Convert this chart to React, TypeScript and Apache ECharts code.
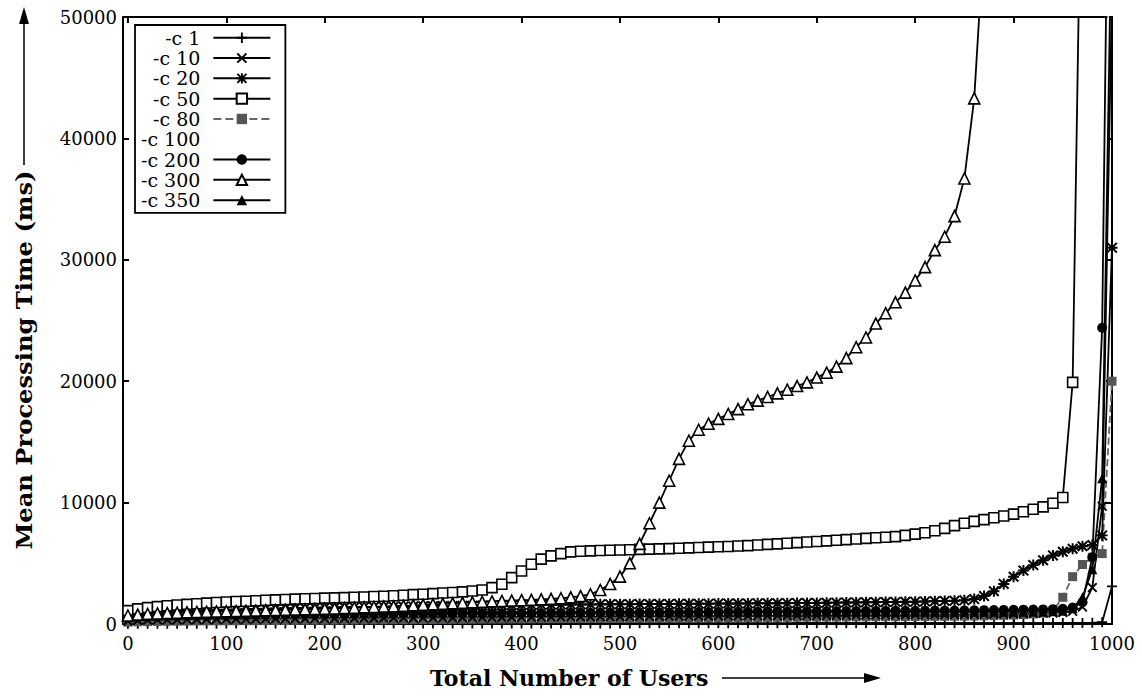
import React, { useEffect, useRef } from "react";
import * as echarts from "echarts";

// Total number of users (x values of every sampled point)
const users = [
  0, 10, 20, 30, 40, 50, 60, 70, 80, 90,
  100, 110, 120, 130, 140, 150, 160, 170, 180, 190,
  200, 210, 220, 230, 240, 250, 260, 270, 280, 290,
  300, 310, 320, 330, 340, 350, 360, 370, 380, 390,
  400, 410, 420, 430, 440, 450, 460, 470, 480, 490,
  500, 510, 520, 530, 540, 550, 560, 570, 580, 590,
  600, 610, 620, 630, 640, 650, 660, 670, 680, 690,
  700, 710, 720, 730, 740, 750, 760, 770, 780, 790,
  800, 810, 820, 830, 840, 850, 860, 870, 880, 890,
  900, 910, 920, 930, 940, 950, 960, 970, 980, 990,
  1000,
];

// Mean processing time (ms) per concurrency level
const c1 = [
  20, 22, 24, 25, 26, 27, 28, 29, 30, 30,
  31, 31, 32, 32, 33, 33, 34, 34, 35, 35,
  36, 36, 37, 37, 38, 38, 39, 39, 40, 40,
  41, 41, 42, 42, 43, 43, 44, 44, 45, 45,
  46, 46, 47, 47, 48, 48, 49, 49, 50, 50,
  51, 51, 52, 52, 53, 53, 54, 54, 55, 55,
  56, 56, 57, 57, 58, 58, 59, 59, 60, 60,
  61, 61, 62, 62, 63, 63, 64, 64, 65, 65,
  66, 66, 67, 67, 68, 68, 69, 70, 71, 72,
  73, 74, 75, 77, 79, 82, 86, 92, 100, 150,
  3100,
];
const c10 = [
  250, 300, 320, 340, 350, 360, 370, 380, 390, 400,
  405, 410, 415, 420, 425, 430, 435, 440, 445, 450,
  455, 460, 465, 470, 475, 480, 485, 490, 495, 500,
  505, 510, 515, 520, 525, 530, 535, 540, 545, 550,
  555, 560, 565, 570, 575, 580, 585, 590, 595, 600,
  605, 610, 615, 620, 625, 630, 635, 640, 645, 650,
  655, 660, 665, 670, 675, 680, 685, 690, 695, 700,
  705, 710, 715, 720, 725, 730, 735, 740, 745, 750,
  755, 760, 765, 770, 775, 780, 790, 800, 810, 820,
  830, 845, 860, 880, 910, 950, 1050, 1400, 3000, 9700,
  52000,
];
const c20 = [
  900, 950, 990, 1020, 1050, 1070, 1090, 1110, 1130, 1150,
  1170, 1190, 1210, 1230, 1250, 1270, 1290, 1300, 1320, 1340,
  1350, 1360, 1380, 1390, 1400, 1410, 1420, 1430, 1440, 1450,
  1460, 1470, 1480, 1490, 1500, 1510, 1520, 1530, 1540, 1550,
  1560, 1570, 1580, 1590, 1600, 1605, 1610, 1615, 1620, 1625,
  1630, 1635, 1640, 1645, 1650, 1655, 1660, 1665, 1670, 1675,
  1680, 1685, 1690, 1695, 1700, 1705, 1710, 1715, 1720, 1730,
  1740, 1750, 1760, 1770, 1780, 1790, 1800, 1810, 1820, 1830,
  1840, 1860, 1880, 1900, 1920, 1950, 2050, 2300, 2700, 3300,
  3900, 4400, 4850, 5250, 5650, 5950, 6200, 6400, 6500, 7300,
  31000,
];
const c50 = [
  1100, 1250, 1350, 1430, 1500, 1560, 1620, 1670, 1720, 1770,
  1810, 1850, 1880, 1920, 1960, 1990, 2020, 2050, 2080, 2100,
  2130, 2150, 2170, 2200, 2230, 2260, 2290, 2330, 2370, 2420,
  2450, 2500, 2550, 2600, 2650, 2720, 2800, 3000, 3270, 3820,
  4370, 4920, 5340, 5610, 5800, 5940, 5990, 6020, 6050, 6080,
  6100, 6120, 6150, 6170, 6190, 6210, 6240, 6270, 6300, 6330,
  6360, 6390, 6420, 6460, 6510, 6560, 6600, 6650, 6700, 6750,
  6800, 6850, 6900, 6950, 7000, 7050, 7100, 7150, 7200, 7300,
  7400, 7520, 7680, 7880, 8100, 8300, 8450, 8600, 8750, 8900,
  9050, 9250, 9450, 9650, 9950, 10420, 19900, 70000,
];
const c80 = [
  150, 180, 200, 210, 220, 230, 240, 250, 255, 260,
  265, 270, 275, 280, 285, 290, 295, 300, 305, 310,
  315, 320, 325, 330, 335, 340, 345, 350, 355, 360,
  365, 370, 375, 380, 385, 390, 395, 400, 405, 410,
  415, 420, 425, 430, 435, 440, 445, 450, 455, 460,
  465, 470, 475, 480, 485, 490, 495, 500, 505, 510,
  515, 520, 525, 530, 535, 540, 545, 550, 555, 560,
  565, 570, 575, 580, 585, 590, 595, 600, 605, 610,
  615, 620, 625, 630, 640, 650, 660, 670, 690, 710,
  740, 780, 830, 900, 1100, 2200, 3900, 4900, 5500, 5800,
  20000,
];
const c100 = [
  800, 860, 900, 930, 960, 980, 1000, 1020, 1040, 1060,
  1070, 1080, 1090, 1100, 1110, 1120, 1130, 1140, 1150, 1160,
  1170, 1180, 1190, 1200, 1210, 1220, 1230, 1240, 1250, 1260,
  1265, 1270, 1275, 1280, 1285, 1290, 1295, 1300, 1305, 1310,
  1315, 1320, 1325, 1330, 1335, 1340, 1345, 1350, 1355, 1360,
  1365, 1370, 1375, 1380, 1385, 1390, 1395, 1400, 1405, 1410,
  1415, 1420, 1425, 1430, 1435, 1440, 1445, 1450, 1455, 1460,
  1465, 1470, 1475, 1480, 1485, 1490, 1495, 1500, 1505, 1510,
  1515, 1520, 1525, 1530, 1535, 1540, 1545, 1550, 1560, 1570,
  1580, 1590, 1600, 1620, 1650, 1700, 1850, 2600, 5000, 15000,
  70000,
];
const c200 = [
  500, 550, 580, 600, 620, 640, 660, 670, 680, 690,
  700, 710, 720, 730, 740, 750, 760, 770, 780, 790,
  795, 800, 805, 810, 815, 820, 825, 830, 835, 840,
  845, 850, 855, 860, 865, 870, 875, 880, 885, 890,
  895, 900, 905, 910, 915, 920, 925, 930, 935, 940,
  945, 950, 955, 960, 965, 970, 975, 980, 985, 990,
  995, 1000, 1005, 1010, 1015, 1020, 1025, 1030, 1035, 1040,
  1045, 1050, 1055, 1060, 1065, 1070, 1075, 1080, 1085, 1090,
  1095, 1100, 1105, 1110, 1115, 1120, 1130, 1140, 1150, 1160,
  1170, 1180, 1190, 1200, 1220, 1250, 1350, 1800, 5500, 24400,
  90000,
];
const c300 = [
  700, 780, 830, 870, 900, 930, 960, 990, 1010, 1030,
  1050, 1070, 1090, 1110, 1130, 1150, 1170, 1190, 1210, 1230,
  1250, 1280, 1310, 1340, 1370, 1400, 1430, 1460, 1500, 1540,
  1580, 1620, 1660, 1700, 1740, 1780, 1820, 1860, 1900, 1930,
  1960, 1990, 2030, 2070, 2120, 2200, 2300, 2450, 2800, 3300,
  3900, 5000, 6600, 8300, 10000, 11800, 13600, 15100, 16000, 16500,
  16900, 17300, 17700, 18100, 18400, 18700, 19000, 19300, 19600, 19900,
  20300, 20700, 21200, 21900, 22800, 23600, 24750, 25600, 26500, 27300,
  28300, 29400, 30800, 31900, 33600, 36700, 43300, 56700,
];
const c350 = [
  600, 650, 690, 720, 740, 760, 780, 800, 810, 820,
  830, 840, 850, 860, 870, 880, 890, 900, 905, 910,
  915, 920, 925, 930, 935, 940, 945, 950, 955, 960,
  962, 964, 966, 968, 970, 972, 974, 976, 978, 980,
  982, 984, 986, 988, 990, 992, 994, 996, 998, 1000,
  1000, 1000, 1000, 1000, 1000, 1000, 1000, 1000, 1000, 1000,
  1000, 1000, 1000, 1000, 1000, 1000, 1000, 1000, 1000, 1000,
  1000, 1000, 1000, 1000, 1000, 1000, 1000, 1000, 1000, 1000,
  1000, 1000, 1000, 1000, 1000, 1000, 1000, 1000, 1000, 1000,
  1000, 1010, 1020, 1030, 1050, 1100, 1300, 2200, 4500, 12000,
  60000,
];

const xTicks = [0, 100, 200, 300, 400, 500, 600, 700, 800, 900, 1000];
const legendNames = ["-c 1", "-c 10", "-c 20", "-c 50", "-c 80", "-c 100", "-c 200", "-c 300", "-c 350"];

const PLUS_D = "M4.1,0H5.9V4.1H10V5.9H5.9V10H4.1V5.9H0V4.1H4.1Z";
const CROSS_D = "M0,1.3L1.3,0L5,3.7L8.7,0L10,1.3L6.3,5L10,8.7L8.7,10L5,6.3L1.3,10L0,8.7L3.7,5Z";
const PLUS = "path://" + PLUS_D;
const CROSS = "path://" + CROSS_D;
const STAR = "path://" + PLUS_D + CROSS_D;

const SERIF = '"DejaVu Serif", "Liberation Serif", serif';

function mk(
  name: string,
  vals: number[],
  symbol: string,
  size: number,
  fill: string,
  border: string | null,
  lineColor: string,
  lineType: "solid" | "dashed" = "solid",
  z = 2
) {
  return {
    type: "line",
    name,
    data: vals.map((v, i) => [users[i], v]),
    symbol,
    symbolSize: size,
    showSymbol: true,
    showAllSymbol: true,
    clip: true,
    z,
    silent: true,
    lineStyle: { color: lineColor, width: 1.8, type: lineType },
    itemStyle: {
      color: fill,
      borderColor: border ?? fill,
      borderWidth: border ? 1.6 : 0,
    },
    emphasis: { disabled: true },
  };
}

export default function App() {
  const ref = useRef<HTMLDivElement>(null);
  useEffect(() => {
    document.body.style.margin = "0";
    if (!ref.current) return;
    const chart = echarts.init(ref.current, null, { renderer: "svg" });
    const axisLineStyle = { color: "#000", width: 2 };
    const plain = (v: number) => String(v);
    const option: any = {
      animation: false,
      backgroundColor: "#fff",
      grid: { left: 123, right: 30, top: 17, bottom: 72, containLabel: false },
      xAxis: [
        {
          type: "value",
          min: -5,
          max: 1000,
          axisLine: { show: true, onZero: false, lineStyle: axisLineStyle },
          axisTick: { show: true, inside: true, length: 6, customValues: xTicks, lineStyle: { color: "#000", width: 2 } },
          axisLabel: { show: true, customValues: xTicks, formatter: plain, margin: 10, color: "#000", fontFamily: SERIF, fontSize: 18 },
          splitLine: { show: false },
        },
        {
          type: "value",
          position: "top",
          min: -5,
          max: 1000,
          axisLine: { show: true, onZero: false, lineStyle: axisLineStyle },
          axisTick: { show: true, inside: true, length: 6, customValues: xTicks, lineStyle: { color: "#000", width: 2 } },
          axisLabel: { show: false },
          splitLine: { show: false },
        },
      ],
      yAxis: [
        {
          type: "value",
          min: 0,
          max: 50000,
          interval: 10000,
          axisLine: { show: true, onZero: false, lineStyle: axisLineStyle },
          axisTick: { show: true, inside: true, length: 6, lineStyle: { color: "#000", width: 2 } },
          axisLabel: { show: true, formatter: plain, margin: 6, color: "#000", fontFamily: SERIF, fontSize: 18 },
          splitLine: { show: false },
        },
        {
          type: "value",
          position: "right",
          min: 0,
          max: 50000,
          interval: 10000,
          axisLine: { show: true, onZero: false, lineStyle: axisLineStyle },
          axisTick: { show: true, inside: true, length: 6, lineStyle: { color: "#000", width: 2 } },
          axisLabel: { show: false },
          splitLine: { show: false },
        },
      ],
      legend: {
        orient: "vertical",
        left: 135,
        top: 25,
        align: "right",
        itemWidth: 57,
        itemHeight: 13,
        itemGap: 0.8,
        padding: [3, 14, 3, 6],
        borderColor: "#000",
        borderWidth: 1.8,
        backgroundColor: "#fff",
        selectedMode: false,
        textStyle: { color: "#000", fontFamily: SERIF, fontSize: 19, lineHeight: 19.5, padding: [0, 8, 0, 0] },
        data: legendNames.map((n) =>
          n === "-c 100"
            ? { name: n, itemStyle: { opacity: 0 }, lineStyle: { opacity: 0 } }
            : { name: n }
        ),
      },
      graphic: [
        {
          type: "text",
          x: 430,
          y: 678,
          style: {
            text: "Total Number of Users",
            font: 'bold 22px "DejaVu Serif"',
            fill: "#000",
            align: "left",
            verticalAlign: "middle",
          },
        },
        { type: "line", shape: { x1: 722, y1: 678, x2: 868, y2: 678 }, style: { stroke: "#000", lineWidth: 1.5 } },
        { type: "polygon", shape: { points: [[864, 673], [881, 678], [864, 683]] }, style: { fill: "#000" } },
        {
          type: "text",
          x: 24,
          y: 360,
          rotation: Math.PI / 2,
          scaleX: 1.1,
          style: {
            text: "Mean Processing Time (ms)",
            font: 'bold 22px "DejaVu Serif"',
            fill: "#000",
            align: "center",
            verticalAlign: "middle",
          },
        },
        { type: "line", shape: { x1: 24, y1: 165, x2: 24, y2: 20 }, style: { stroke: "#000", lineWidth: 1.5 } },
        { type: "polygon", shape: { points: [[19, 24], [24, 7], [29, 24]] }, style: { fill: "#000" } },
      ],
      series: [
        mk("-c 100", c100, "emptyCircle", 8, "#fff", "#f0f0f0", "#f0f0f0", "solid", 1),
        mk("-c 1", c1, PLUS, 10, "#000", null, "#000"),
        mk("-c 80", c80, "rect", 9, "#555", null, "#666", "dashed"),
        mk("-c 10", c10, CROSS, 10, "#000", null, "#000"),
        mk("-c 200", c200, "circle", 10, "#000", null, "#000"),
        mk("-c 350", c350, "triangle", 10, "#000", null, "#000"),
        mk("-c 20", c20, STAR, 11, "#000", null, "#000"),
        mk("-c 50", c50, "rect", 10, "#fff", "#000", "#000", "solid", 3),
        mk("-c 300", c300, "triangle", 11, "#fff", "#000", "#000", "solid", 4),
      ],
    };
    chart.setOption(option);
    return () => chart.dispose();
  }, []);
  return <div ref={ref} style={{ width: 1142, height: 696 }} />;
}
